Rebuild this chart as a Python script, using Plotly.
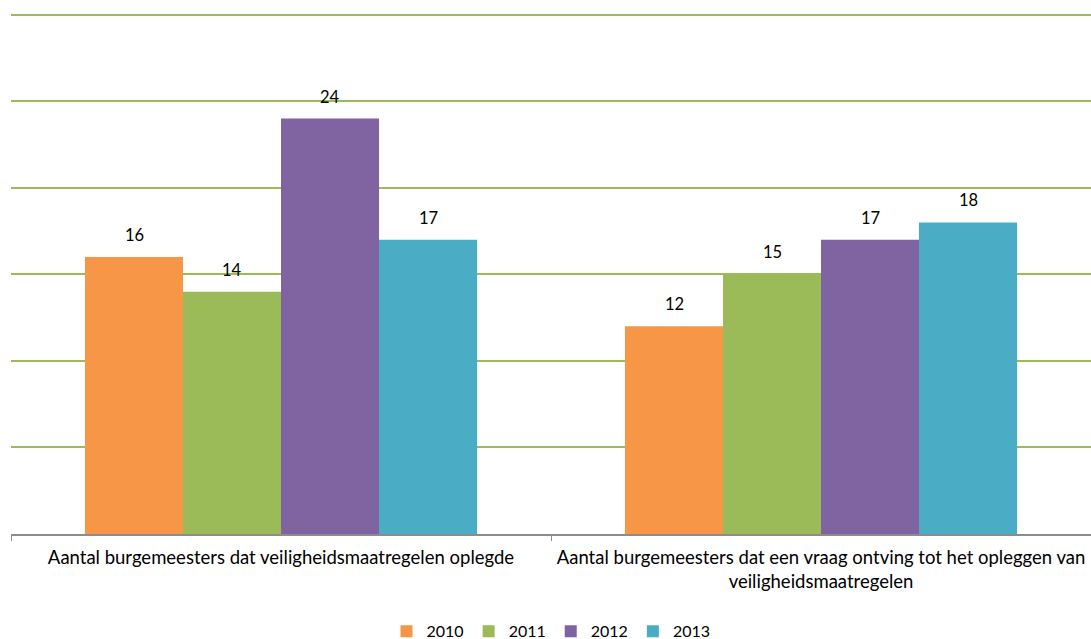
import plotly.graph_objects as go

categories = [
    "Aantal burgemeesters dat veiligheidsmaatregelen oplegde",
    "Aantal burgemeesters dat een vraag ontving tot het opleggen van<br>veiligheidsmaatregelen",
]
years = ["2010", "2011", "2012", "2013"]
values_2010 = [16, 12]
values_2011 = [14, 15]
values_2012 = [24, 17]
values_2013 = [17, 18]
series = [values_2010, values_2011, values_2012, values_2013]
colors = ["#F79646", "#9BBB59", "#8064A2", "#4BACC6"]

FONT = "Lato"
fig = go.Figure()
for name, vals, col in zip(years, series, colors):
    fig.add_trace(go.Bar(
        name=name, x=categories, y=vals, marker_color=col,
        marker_line_width=0,
    ))

# data labels above each bar
bar_px = 98
n = len(series)
for i, vals in enumerate(series):
    shift = (i - (n - 1) / 2) * bar_px
    for cat, v in zip(categories, vals):
        fig.add_annotation(x=cat, y=v, text=str(v), showarrow=False,
                           xshift=shift, yshift=22, yanchor="middle",
                           font=dict(family=FONT, size=16.5, color="#000000"))

fig.update_layout(
    width=1091, height=639,
    paper_bgcolor="white", plot_bgcolor="white",
    barmode="group", bargap=0.274, bargroupgap=0,
    margin=dict(l=11, r=0, t=13, b=105, autoexpand=False),
    font=dict(family=FONT, size=16.5, color="#000000"),
    legend=dict(orientation="h", x=0.5, xanchor="center", yref="container",
                y=0.012, yanchor="middle", font=dict(family=FONT, size=16),
                traceorder="normal"),
    showlegend=True,
)
fig.update_xaxes(showline=True, linecolor="#8C8C8C", linewidth=1.5,
                 ticks="outside", tickson="boundaries", ticklen=5,
                 tickcolor="#8C8C8C", showgrid=False, automargin=False,
                 ticklabelstandoff=6, tickangle=0,
                 tickfont=dict(family=FONT, size=18.5, color="#000000"))
fig.update_yaxes(range=[0, 30.1], tickvals=[5, 10, 15, 20, 25, 30],
                 showgrid=True, gridcolor="#9BBB59",
                 gridwidth=2, showticklabels=False, zeroline=False,
                 showline=False, automargin=False)

fig.write_html("out.html", config={"displayModeBar": False},
               post_script="document.body.style.margin='0';")
